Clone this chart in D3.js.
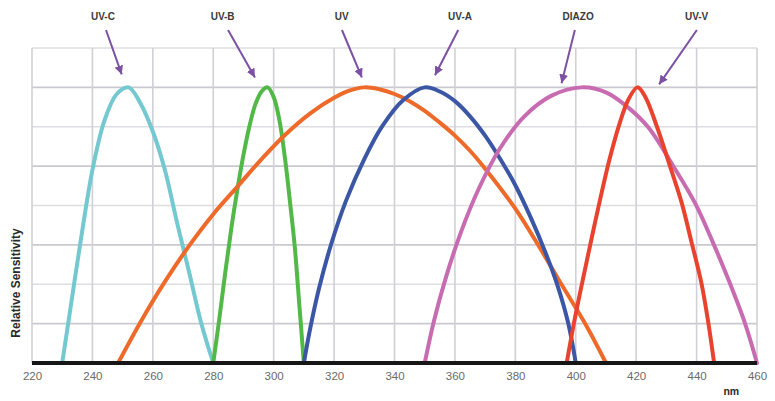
<!DOCTYPE html>
<html>
<head>
<meta charset="utf-8">
<script src="https://cdn.jsdelivr.net/npm/d3@7"></script>
<style>
  html, body { margin: 0; padding: 0; background: #fff; }
  svg { display: block; font-family: "Liberation Sans", Arial, sans-serif; }
</style>
</head>
<body>
<svg id="chart" width="775" height="401"></svg>
<script>
// ---------- DATA ----------
const xTicks = [220, 240, 260, 280, 300, 320, 340, 360, 380, 400, 420, 440, 460];
const xUnit = "nm";
const yTitle = "Relative Sensitivity";

const seriesNames = ["UV-C", "UV-B", "UV", "UV-A", "DIAZO", "UV-V"];

const uvcNm  = [230, 232, 236, 240, 244, 248, 252, 256, 260, 264, 268, 272, 276, 280];
const uvcVal = [0, 0.145, 0.435, 0.70, 0.88, 0.975, 1, 0.94, 0.84, 0.70, 0.51, 0.33, 0.145, 0];

const uvbNm  = [280, 282, 284, 286, 288, 290, 292, 294, 296, 298, 300, 302, 304, 305.5, 307, 308.5, 310];
const uvbVal = [0, 0.16, 0.33, 0.49, 0.63, 0.755, 0.86, 0.94, 0.985, 1, 0.965, 0.875, 0.72, 0.575, 0.42, 0.21, 0];

const uvNm  = [248.5, 256, 264, 272, 280, 288, 296, 304, 312, 320, 325, 330, 335, 340, 345, 350, 355, 360, 365, 370, 380, 388, 395, 403, 410];
const uvVal = [0, 0.15, 0.295, 0.425, 0.54, 0.64, 0.74, 0.83, 0.905, 0.962, 0.988, 1, 0.993, 0.976, 0.95, 0.915, 0.872, 0.825, 0.77, 0.705, 0.56, 0.42, 0.29, 0.145, 0];

const uvaNm  = [310, 312, 315, 319, 324, 330, 336, 343, 350, 355, 360, 365, 370, 375, 380, 385, 390, 394, 397.5, 400];
const uvaVal = [0, 0.12, 0.27, 0.43, 0.59, 0.74, 0.86, 0.955, 1, 0.985, 0.95, 0.895, 0.825, 0.74, 0.645, 0.53, 0.4, 0.28, 0.145, 0];

const diazoNm  = [350, 353, 357, 362, 368, 375, 383, 392, 402, 410, 417, 424, 432.3, 439.5, 445.5, 451, 456, 460];
const diazoVal = [0, 0.15, 0.31, 0.475, 0.635, 0.78, 0.895, 0.97, 1, 0.982, 0.93, 0.855, 0.714, 0.58, 0.435, 0.29, 0.145, 0];

const uvvNm  = [397, 399.5, 402.3, 405.2, 408.2, 411.2, 414.4, 417.4, 420.4, 422.9, 426.8, 431.2, 435.1, 438.4, 441.6, 443.9, 445.8];
const uvvVal = [0, 0.15, 0.3, 0.45, 0.6, 0.74, 0.865, 0.955, 1, 0.968, 0.86, 0.714, 0.58, 0.435, 0.29, 0.145, 0];

// annotation anchors (nm for label / arrow start, arrow tip nm & relative value)
const labelNm     = [243.5, 283.1, 322.5, 361.7, 400.8, 440];
const arrowFromNm = [244.5, 284.9, 322.6, 361.1, 399.7, 440.1];
const arrowTipNm  = [249.7, 293.8, 329.2, 353.4, 395.3, 427.6];
const arrowTipVal = [1.047, 1.036, 1.036, 1.044, 1.015, 1.011];

// ---------- STYLE ----------
const colors = ["#74c8cf", "#52b848", "#ee6a2b", "#3b56a4", "#c86cb1", "#e8432f"];
const arrowColor = "#7c50a3";

// ---------- SCALES ----------
const svg = d3.select("#chart");
const x = d3.scaleLinear().domain([220, 460]).range([32, 757]);
const y = d3.scaleLinear().domain([0, 8 / 7]).range([363, 48]);

// grid
const g = svg.append("g");
const hVals = d3.range(1, 9).map(i => i / 7);
g.selectAll("line.h").data(hVals).enter().append("line")
  .attr("x1", x(220)).attr("x2", x(460))
  .attr("y1", d => y(d)).attr("y2", d => y(d))
  .attr("stroke", (d, i) => (i % 2 === 0) ? "#c9c9cf" : "#dedee2")
  .attr("stroke-width", 1.6);
g.selectAll("line.v").data(xTicks).enter().append("line")
  .attr("x1", d => x(d)).attr("x2", d => x(d))
  .attr("y1", y(8 / 7)).attr("y2", y(0))
  .attr("stroke", "#d0d0d6")
  .attr("stroke-width", 1.6);

// x axis labels via d3 axis
const xAxis = d3.axisBottom(x).tickValues(xTicks).tickSize(0).tickPadding(9).tickFormat(d3.format("d"));
const ax = svg.append("g").attr("transform", `translate(0,${y(0)})`).call(xAxis);
ax.select(".domain").remove();
ax.selectAll("text").attr("font-size", 11.5).attr("fill", "#6a6a6a")
  .attr("font-family", "'Liberation Sans', Arial, sans-serif");

// curves
const seriesNm = [uvcNm, uvbNm, uvNm, uvaNm, diazoNm, uvvNm];
const seriesVal = [uvcVal, uvbVal, uvVal, uvaVal, diazoVal, uvvVal];
const line = d3.line().x(d => x(d[0])).y(d => y(d[1])).curve(d3.curveCatmullRom.alpha(0.5));
seriesNames.forEach((name, i) => {
  const pts = seriesNm[i].map((n, k) => [n, seriesVal[i][k]]);
  svg.append("path").datum(pts)
    .attr("d", line)
    .attr("fill", "none")
    .attr("stroke", colors[i])
    .attr("stroke-width", 4)
    .attr("stroke-linecap", "round")
    .attr("stroke-linejoin", "round");
});

// baseline
svg.append("line")
  .attr("x1", x(220)).attr("x2", x(460))
  .attr("y1", y(0)).attr("y2", y(0))
  .attr("stroke", "#161616").attr("stroke-width", 4);

// annotations
const defs = svg.append("defs");
defs.append("marker").attr("id", "ah")
  .attr("viewBox", "0 0 10 10").attr("refX", 10).attr("refY", 5)
  .attr("markerWidth", 4.4).attr("markerHeight", 4.4)
  .attr("markerUnits", "strokeWidth")
  .attr("orient", "auto")
  .append("path").attr("d", "M0,0 L10,5 L0,10 Z").attr("fill", arrowColor);

seriesNames.forEach((name, i) => {
  svg.append("text")
    .attr("x", x(labelNm[i])).attr("y", 20)
    .attr("text-anchor", "middle")
    .attr("font-size", 10).attr("font-weight", "bold")
    .attr("fill", "#3a3a3a")
    .text(name);
  svg.append("line")
    .attr("x1", x(arrowFromNm[i])).attr("y1", 30)
    .attr("x2", x(arrowTipNm[i])).attr("y2", y(arrowTipVal[i]))
    .attr("stroke", arrowColor).attr("stroke-width", 2)
    .attr("marker-end", "url(#ah)");
});

// axis titles
svg.append("text")
  .attr("transform", "translate(20,283) rotate(-90)")
  .attr("text-anchor", "middle")
  .attr("font-size", 12).attr("font-weight", "bold").attr("fill", "#2a2a2a")
  .text(yTitle);
svg.append("text")
  .attr("x", x(451.5)).attr("y", 395)
  .attr("text-anchor", "middle")
  .attr("font-size", 10.5).attr("font-weight", "bold").attr("fill", "#2a2a2a")
  .text(xUnit);
</script>
</body>
</html>
